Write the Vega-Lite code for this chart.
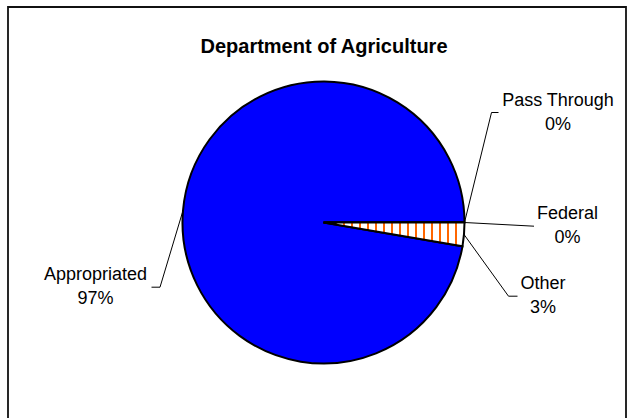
{
  "$schema": "https://vega.github.io/schema/vega-lite/v6.json",
  "width": 618,
  "height": 431,
  "autosize": {"type": "none"},
  "padding": {"left": 8, "top": 7, "right": 6, "bottom": 0},
  "background": "white",
  "config": {"view": {"stroke": "#111111", "strokeWidth": 1.8}},
  "title": {
    "text": "Department of Agriculture",
    "font": "Liberation Sans",
    "fontSize": 20,
    "fontWeight": "bold",
    "color": "#000000",
    "anchor": "middle",
    "frame": "group",
    "baseline": "alphabetic",
    "offset": -66,
    "dx": 7
  },
  "data": {
    "values": [
      {"category": "Appropriated", "value": 97.3},
      {"category": "Federal", "value": 0},
      {"category": "Pass Through", "value": 0},
      {"category": "Other", "value": 2.7}
    ]
  },
  "transform": [
    {"joinaggregate": [{"op": "sum", "field": "value", "as": "total"}]},
    {"stack": "value", "groupby": [], "sort": [{"field": "value", "order": "ascending"}], "as": ["s0", "s1"]},
    {"calculate": "PI / 2 + 2 * PI * ((datum.s0 + datum.s1) / 2 / datum.total)", "as": "ang"},
    {"calculate": "141 * sin(datum.ang)", "as": "ex"},
    {"calculate": "-141 * cos(datum.ang)", "as": "ey"},
    {"calculate": "datum.category + '\\n' + format(datum.value / datum.total, '.0%')", "as": "label"},
    {"calculate": "datum.category === 'Appropriated' ? -228 : datum.category === 'Pass Through' ? 234.5 : datum.category === 'Federal' ? 244 : 219.5", "as": "lx"},
    {"calculate": "datum.category === 'Appropriated' ? 64.7 : datum.category === 'Pass Through' ? -110 : datum.category === 'Federal' ? 3.7 : 73.7", "as": "ly"},
    {"calculate": "datum.category === 'Appropriated' ? -172 : datum.category === 'Pass Through' ? 175 : datum.category === 'Federal' ? 210.5 : 194", "as": "sx"},
    {"calculate": "datum.category === 'Appropriated' ? -163.5 : datum.category === 'Pass Through' ? 168 : datum.category === 'Federal' ? 210.5 : 185", "as": "bx"}
  ],
  "layer": [
    {
      "mark": {"type": "arc", "outerRadius": 141, "stroke": "#000000", "strokeWidth": 2},
      "encoding": {
        "theta": {"field": "value", "type": "quantitative", "stack": true, "scale": {"range": [1.5707963, 7.8539816]}},
        "order": {"field": "value", "sort": "ascending"},
        "x": {"datum": 0, "type": "quantitative", "scale": {"domain": [-315.5, 302.5], "nice": false, "zero": false}, "axis": null},
        "y": {"datum": 0, "type": "quantitative", "scale": {"domain": [-215.5, 215.5], "reverse": true, "nice": false, "zero": false}, "axis": null},
        "color": {
          "condition": {
            "test": "datum.category === 'Other'",
            "value": {
              "gradient": "linear",
              "x1": 0, "y1": 0, "x2": 1, "y2": 0,
              "stops": [
                {"offset": 0, "color": "#ffffff"},
                {"offset": 0.0234, "color": "#ffffff"}, {"offset": 0.0234, "color": "#ff6600"}, {"offset": 0.0404, "color": "#ff6600"}, {"offset": 0.0404, "color": "#ffffff"},
                {"offset": 0.0801, "color": "#ffffff"}, {"offset": 0.0801, "color": "#ff6600"}, {"offset": 0.0972, "color": "#ff6600"}, {"offset": 0.0972, "color": "#ffffff"},
                {"offset": 0.1369, "color": "#ffffff"}, {"offset": 0.1369, "color": "#ff6600"}, {"offset": 0.1539, "color": "#ff6600"}, {"offset": 0.1539, "color": "#ffffff"},
                {"offset": 0.1936, "color": "#ffffff"}, {"offset": 0.1936, "color": "#ff6600"}, {"offset": 0.2106, "color": "#ff6600"}, {"offset": 0.2106, "color": "#ffffff"},
                {"offset": 0.2504, "color": "#ffffff"}, {"offset": 0.2504, "color": "#ff6600"}, {"offset": 0.2674, "color": "#ff6600"}, {"offset": 0.2674, "color": "#ffffff"},
                {"offset": 0.3071, "color": "#ffffff"}, {"offset": 0.3071, "color": "#ff6600"}, {"offset": 0.3241, "color": "#ff6600"}, {"offset": 0.3241, "color": "#ffffff"},
                {"offset": 0.3638, "color": "#ffffff"}, {"offset": 0.3638, "color": "#ff6600"}, {"offset": 0.3809, "color": "#ff6600"}, {"offset": 0.3809, "color": "#ffffff"},
                {"offset": 0.4206, "color": "#ffffff"}, {"offset": 0.4206, "color": "#ff6600"}, {"offset": 0.4376, "color": "#ff6600"}, {"offset": 0.4376, "color": "#ffffff"},
                {"offset": 0.4773, "color": "#ffffff"}, {"offset": 0.4773, "color": "#ff6600"}, {"offset": 0.4943, "color": "#ff6600"}, {"offset": 0.4943, "color": "#ffffff"},
                {"offset": 0.5340, "color": "#ffffff"}, {"offset": 0.5340, "color": "#ff6600"}, {"offset": 0.5511, "color": "#ff6600"}, {"offset": 0.5511, "color": "#ffffff"},
                {"offset": 0.5908, "color": "#ffffff"}, {"offset": 0.5908, "color": "#ff6600"}, {"offset": 0.6078, "color": "#ff6600"}, {"offset": 0.6078, "color": "#ffffff"},
                {"offset": 0.6475, "color": "#ffffff"}, {"offset": 0.6475, "color": "#ff6600"}, {"offset": 0.6645, "color": "#ff6600"}, {"offset": 0.6645, "color": "#ffffff"},
                {"offset": 0.7043, "color": "#ffffff"}, {"offset": 0.7043, "color": "#ff6600"}, {"offset": 0.7213, "color": "#ff6600"}, {"offset": 0.7213, "color": "#ffffff"},
                {"offset": 0.7610, "color": "#ffffff"}, {"offset": 0.7610, "color": "#ff6600"}, {"offset": 0.7780, "color": "#ff6600"}, {"offset": 0.7780, "color": "#ffffff"},
                {"offset": 0.8177, "color": "#ffffff"}, {"offset": 0.8177, "color": "#ff6600"}, {"offset": 0.8348, "color": "#ff6600"}, {"offset": 0.8348, "color": "#ffffff"},
                {"offset": 0.8745, "color": "#ffffff"}, {"offset": 0.8745, "color": "#ff6600"}, {"offset": 0.8915, "color": "#ff6600"}, {"offset": 0.8915, "color": "#ffffff"},
                {"offset": 0.9312, "color": "#ffffff"}, {"offset": 0.9312, "color": "#ff6600"}, {"offset": 0.9482, "color": "#ff6600"}, {"offset": 0.9482, "color": "#ffffff"},
                {"offset": 1, "color": "#ffffff"}
              ]
            }
          },
          "value": "#0000ff"
        }
      }
    },
    {
      "mark": {"type": "rule", "color": "#000000", "strokeWidth": 1},
      "encoding": {
        "x": {"field": "ex", "type": "quantitative", "scale": {"domain": [-315.5, 302.5], "nice": false, "zero": false}, "axis": null},
        "y": {"field": "ey", "type": "quantitative", "scale": {"domain": [-215.5, 215.5], "reverse": true, "nice": false, "zero": false}, "axis": null},
        "x2": {"field": "bx"},
        "y2": {"field": "ly"}
      }
    },
    {
      "mark": {"type": "rule", "color": "#000000", "strokeWidth": 1},
      "encoding": {
        "x": {"field": "bx", "type": "quantitative", "scale": {"domain": [-315.5, 302.5], "nice": false, "zero": false}, "axis": null},
        "y": {"field": "ly", "type": "quantitative", "scale": {"domain": [-215.5, 215.5], "reverse": true, "nice": false, "zero": false}, "axis": null},
        "x2": {"field": "sx"}
      }
    },
    {
      "mark": {"type": "text", "font": "Liberation Sans", "fontSize": 18, "color": "#000000", "align": "center", "baseline": "middle", "lineBreak": "\n", "lineHeight": 24, "dy": -12},
      "encoding": {
        "x": {"field": "lx", "type": "quantitative", "scale": {"domain": [-315.5, 302.5], "nice": false, "zero": false}, "axis": null},
        "y": {"field": "ly", "type": "quantitative", "scale": {"domain": [-215.5, 215.5], "reverse": true, "nice": false, "zero": false}, "axis": null},
        "text": {"field": "label", "type": "nominal"}
      }
    }
  ]
}
